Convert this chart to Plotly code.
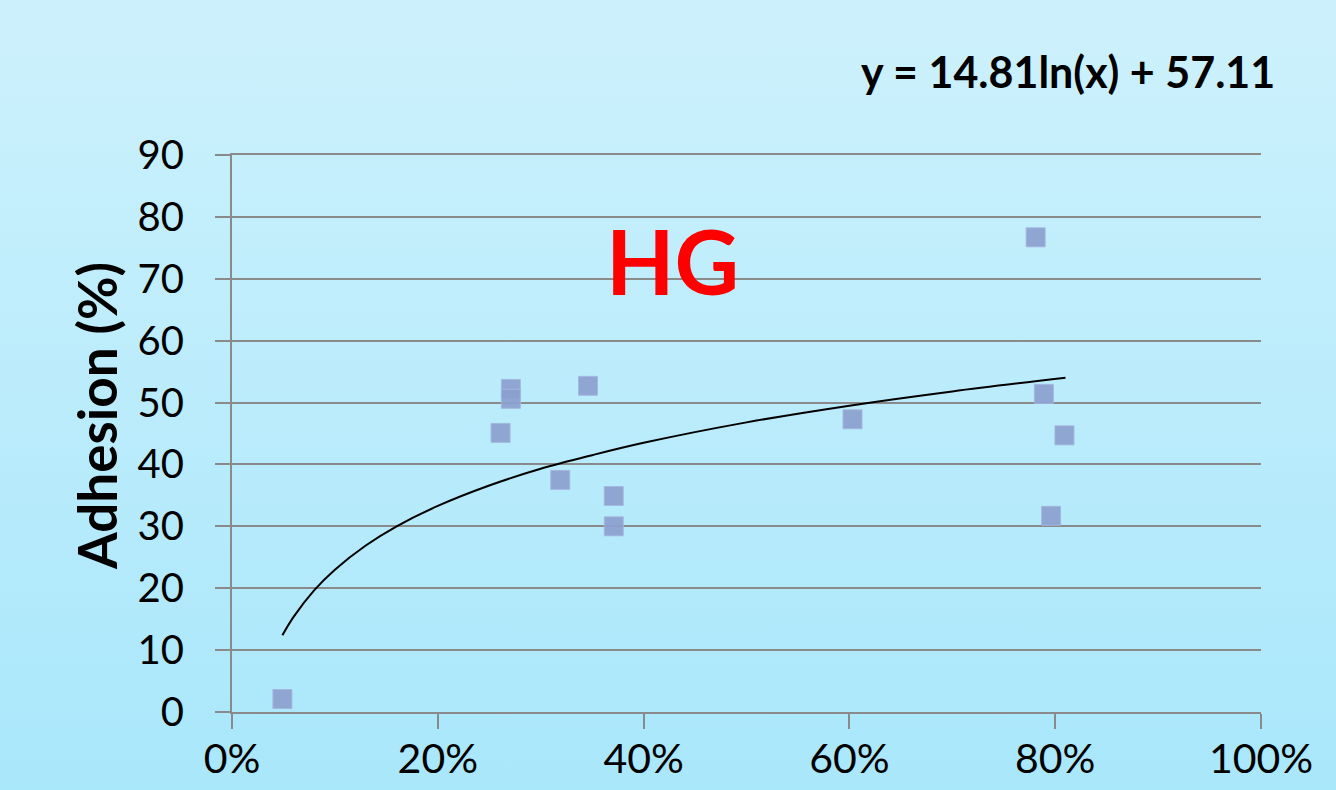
import base64
import plotly.graph_objects as go

# ---- data ----
share = [0.049, 0.261, 0.271, 0.271, 0.319, 0.346, 0.371, 0.371, 0.603, 0.781, 0.789, 0.796, 0.809]
adhesion = [2.1, 45.1, 52.2, 50.6, 37.5, 52.7, 34.9, 30.0, 47.3, 76.7, 51.4, 31.7, 44.7]

trend_x = [0.049, 0.06, 0.08, 0.10, 0.13, 0.16, 0.20, 0.25, 0.30, 0.35, 0.40, 0.50, 0.60, 0.70, 0.81]
trend_y = [12.4, 15.4, 19.7, 23.0, 26.9, 30.0, 33.3, 36.6, 39.3, 41.5, 43.5, 46.8, 49.5, 51.8, 54.0]

x_ticks = [0, 0.2, 0.4, 0.6, 0.8, 1.0]
x_tick_labels = ["0%", "20%", "40%", "60%", "80%", "100%"]
y_ticks = [0, 10, 20, 30, 40, 50, 60, 70, 80, 90]

equation_text = "y = 14.81ln(x) + 57.11"
group_label = "HG"
y_title = "Adhesion (%)"

# ---- layout geometry ----
W, H = 1336, 790
ML, MR, MT, MB = 232, 75, 155, 78
PW, PH = W - ML - MR, H - MT - MB

svg = (
    '<svg xmlns="http://www.w3.org/2000/svg" width="100" height="100" preserveAspectRatio="none">'
    '<defs><linearGradient id="g" x1="0" y1="0" x2="0" y2="1">'
    '<stop offset="0" stop-color="#cdf1fc"/><stop offset="1" stop-color="#a9e7fb"/>'
    '</linearGradient></defs><rect width="100" height="100" fill="url(#g)"/></svg>'
)
bg_src = "data:image/svg+xml;base64," + base64.b64encode(svg.encode()).decode()

fig = go.Figure()

fig.add_trace(go.Scatter(
    x=trend_x, y=trend_y, mode="lines", line=dict(color="black", width=2, shape="spline"),
    hoverinfo="skip", showlegend=False,
))
fig.add_trace(go.Scatter(
    x=share, y=adhesion, mode="markers",
    marker=dict(symbol="square", size=19, color="rgba(140,160,206,0.92)",
                line=dict(color="rgba(165,182,222,0.9)", width=1)),
    showlegend=False,
))

grid_col = "#8a8a8a"
font_main = "Lato, 'Open Sans', sans-serif"

fig.update_layout(
    width=W, height=H,
    margin=dict(l=ML, r=MR, t=MT, b=MB, pad=0, autoexpand=False),
    paper_bgcolor="#bdebfb",
    plot_bgcolor="rgba(0,0,0,0)",
    font=dict(family=font_main, color="black"),
    images=[dict(
        source=bg_src, xref="paper", yref="paper",
        x=-ML / PW, y=1 + MT / PH, sizex=W / PW, sizey=H / PH,
        sizing="stretch", layer="below", xanchor="left", yanchor="top",
    )],
    xaxis=dict(
        range=[0, 1], tickvals=x_ticks, ticktext=x_tick_labels,
        showgrid=False, zeroline=False, automargin=False,
        showline=True, linecolor=grid_col, linewidth=2, mirror=True,
        ticks="outside", ticklen=15, tickwidth=2, tickcolor=grid_col,
        tickfont=dict(size=41, family=font_main), ticklabelstandoff=-5,
    ),
    yaxis=dict(
        range=[0, 90], tickvals=y_ticks, automargin=False,
        showgrid=True, gridcolor=grid_col, gridwidth=2, zeroline=False,
        showline=True, linecolor=grid_col, linewidth=2,
        ticks="outside", ticklen=15, tickwidth=2, tickcolor=grid_col,
        tickfont=dict(size=40, family=font_main), ticklabelstandoff=23,
    ),
    annotations=[
        dict(text=y_title, xref="paper", yref="paper", textangle=-90,
             x=(97 - ML) / PW, y=1 - (416 - MT) / PH, xanchor="center", yanchor="middle",
             showarrow=False, font=dict(size=53, family=font_main, weight="bold", color="black")),
        dict(text=equation_text, xref="paper", yref="paper",
             x=(1068 - ML) / PW, y=1 + (MT - 72) / PH, xanchor="center", yanchor="middle",
             showarrow=False, font=dict(size=43, family=font_main, weight="bold", color="black")),
        dict(text=group_label, xref="paper", yref="paper",
             x=(672 - ML) / PW, y=1 - (260 - MT) / PH, xanchor="center", yanchor="middle",
             showarrow=False, font=dict(size=89, family=font_main, weight="bold", color="#ff0000")),
    ],
)

fig.write_html(
    "out.html",
    config={"displayModeBar": False},
    post_script="document.body.style.margin='0';document.documentElement.style.overflow='hidden';document.body.style.overflow='hidden';",
)
